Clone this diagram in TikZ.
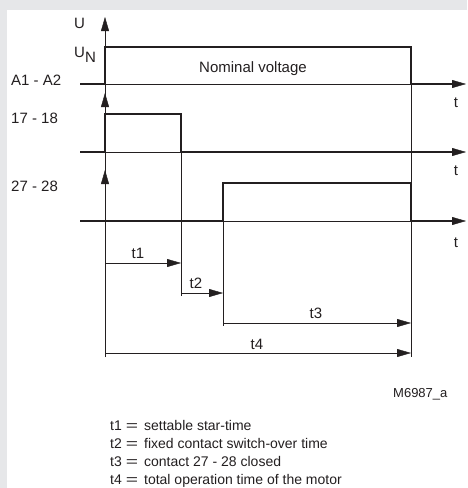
\documentclass[tikz,border=0pt]{standalone}
\usepackage{fontspec}
\setmainfont{Liberation Sans}
\usetikzlibrary{arrows.meta}
\definecolor{panelgray}{RGB}{230,231,233}
\definecolor{ink}{RGB}{35,31,32}
\newcommand{\legeq}{\hspace{4pt}\scalebox{1.5}[1]{=}\hspace{6pt}}

\begin{document}
\begin{tikzpicture}[x=1pt,y=-1pt,font=\fontsize{15}{18}\selectfont,
  >={Triangle[length=14pt,width=8pt,line width=0.4pt]},
  fine/.style={draw=ink,line width=0.8pt},
  sig/.style={draw=ink,line width=2.2pt},
  lbl/.style={inner sep=0pt,anchor=base west,text=ink},
  tlbl/.style={inner sep=0pt,anchor=base,text=ink},
  legend/.style={lbl,font=\fontsize{14}{18}\selectfont}]
  % panel
  \fill[panelgray] (0,0) rectangle (467,488);
  \fill[white] (7,10) rectangle (467,488);
  % time marks
  \coordinate (x0) at (80,0);
  \coordinate (ta) at (105,0);
  \coordinate (tb) at (181,0);
  \coordinate (tc) at (223,0);
  \coordinate (td) at (411,0);
  \coordinate (te) at (466,0);
  % levels
  \coordinate (r0) at (0,17);
  \coordinate (r1hi) at (0,47);
  \coordinate (r1lo) at (0,84);
  \coordinate (a2) at (0,93);
  \coordinate (r2hi) at (0,114);
  \coordinate (r2lo) at (0,152);
  \coordinate (a3) at (0,170);
  \coordinate (r3hi) at (0,183);
  \coordinate (r3lo) at (0,221);
  \coordinate (d1) at (0,263);
  \coordinate (d2) at (0,293);
  \coordinate (d3) at (0,323);
  \coordinate (d4) at (0,353);

  % guides and U axis
  \draw[fine,->] (ta |- 0,357) -- (ta |- r0);
  \draw[fine,->] (ta |- r2lo) -- (ta |- a2);
  \draw[fine,->] (ta |- r3lo) -- (ta |- a3);
  \draw[fine] (tb |- r2lo) -- (tb |- 0,296);
  \draw[fine] (tc |- r3lo) -- (tc |- 0,326);
  \draw[fine] (td |- r1lo) -- (td |- 0,357);

  % thin baselines under the pulses
  \draw[fine] (ta |- r1lo) -- (td |- r1lo);
  \draw[fine] (ta |- r2lo) -- (tb |- r2lo);
  \draw[fine] (tc |- r3lo) -- (td |- r3lo);

  % signals
  \draw[sig,->] (x0 |- r1lo) -- (ta |- r1lo) -- (ta |- r1hi) -- (td |- r1hi)
    -- (td |- r1lo) -- (te |- r1lo);
  \draw[sig] (x0 |- r2lo) -- (ta |- r2lo) -- (ta |- r2hi) -- (tb |- r2hi)
    -- (tb |- r2lo);
  \draw[sig,->] (tb |- r2lo) -- (te |- r2lo);
  \draw[sig] (x0 |- r3lo) -- (tc |- r3lo) -- (tc |- r3hi) -- (td |- r3hi)
    -- (td |- r3lo);
  \draw[sig,->] (td |- r3lo) -- (te |- r3lo);

  % times
  \draw[fine,->] (ta |- d1) -- (tb |- d1);
  \draw[fine,->] (tb |- d2) -- (tc |- d2);
  \draw[fine,->] (tc |- d3) -- (td |- d3);
  \draw[fine,->] (ta |- d4) -- (td |- d4);

  % labels
  \node[lbl] (u) at (74,28) {U};
  \node[lbl] (un) at (74,57) {U\raisebox{-5pt}{N}};
  \node[lbl] (a12) at (11,85) {A1 - A2};
  \node[lbl] (c1718) at (11,123) {17 - 18};
  \node[lbl] (c2728) at (11,191) {27 - 28};
  \node[tlbl] (nom) at (253,72) {Nominal voltage};
  \node[tlbl] (t1x) at (456,107) {t};
  \node[tlbl] (t2x) at (456,175) {t};
  \node[tlbl] (t3x) at (456,247) {t};
  \node[tlbl] (t1) at (138,258) {t1};
  \node[tlbl] (t2) at (196,288) {t2};
  \node[tlbl] (t3) at (316,318) {t3};
  \node[tlbl] (t4) at (257,349) {t4};
  \node[lbl,font=\fontsize{13}{15}\selectfont] (code) at (393,397) {M6987\_a};

  % legend
  \foreach \i/\y/\txt in {1/430/settable star-time,
                          2/448/fixed contact switch-over time,
                          3/466/contact 27 - 28 closed,
                          4/484/total operation time of the motor}
    \node[legend] (leg\i) at (110,\y) {t\i\legeq\txt};
\end{tikzpicture}
\end{document}
